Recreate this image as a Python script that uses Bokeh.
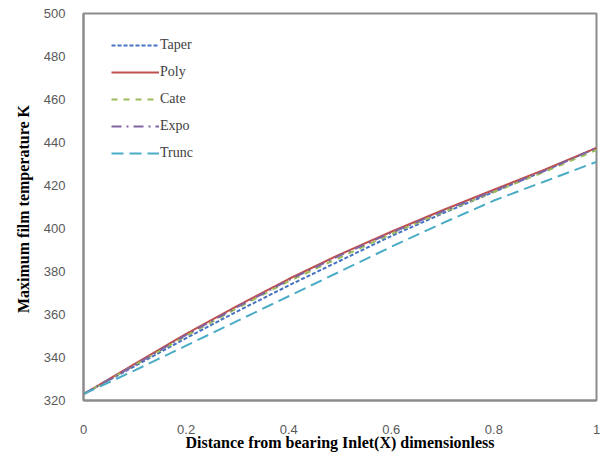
from bokeh.plotting import figure
from bokeh.models import Legend, LegendItem, Range1d, FixedTicker
from bokeh.embed import file_html
from bokeh.resources import INLINE

x = [0.0, 0.1, 0.2, 0.3, 0.4, 0.5, 0.6, 0.7, 0.8, 0.9, 1.0]
taper = [323, 336, 349, 361.5, 373.5, 385, 396.5, 407, 417, 427, 437.5]
poly = [323, 337, 351, 364, 376.5, 388, 398.5, 408.5, 418, 427.5, 437.5]
cate = [323, 336.5, 350, 363, 375.5, 386.5, 397.5, 407.5, 417, 426.5, 436.5]
expo = [323, 336.5, 350.5, 363.5, 376, 387.5, 398, 408, 417.5, 427, 437.5]
trunc = [323, 334, 345.5, 357, 368.5, 380, 391.5, 402.5, 413, 422, 431]

x_ticks = [0, 0.2, 0.4, 0.6, 0.8, 1]
y_ticks = [320, 340, 360, 380, 400, 420, 440, 460, 480, 500]

p = figure(width=605, height=456, output_backend="svg", toolbar_location=None,
           x_range=Range1d(0, 1), y_range=Range1d(320, 500),
           min_border_left=83, min_border_right=9, min_border_top=13, min_border_bottom=56)
p.xgrid.visible = False
p.ygrid.visible = False
p.outline_line_color = "#8c8c8c"
p.outline_line_width = 2
p.background_fill_color = "white"
p.border_fill_color = "white"

for ax in (p.xaxis[0], p.yaxis[0]):
    ax.axis_line_color = "#8c8c8c"
    ax.axis_line_width = 2
    ax.major_tick_line_color = None
    ax.minor_tick_line_color = None
    ax.major_label_text_color = "#595959"
    ax.major_label_text_font = "Liberation Sans"
    ax.major_label_text_font_size = "13px"
    ax.axis_label_text_font = "Liberation Serif"
    ax.axis_label_text_font_style = "bold"
    ax.axis_label_text_font_size = "16px"
    ax.axis_label_text_color = "black"

p.xaxis.ticker = FixedTicker(ticks=x_ticks)
p.yaxis.ticker = FixedTicker(ticks=y_ticks)
p.xaxis.major_label_overrides = {0: "0", 1: "1"}
p.xaxis.major_label_standoff = 18
p.yaxis.major_label_standoff = 12
p.xaxis.axis_label = "Distance from bearing Inlet(X) dimensionless"
p.xaxis.axis_label_standoff = -3
p.yaxis.axis_label = "Maximum film  temperature K"
p.yaxis.axis_label_standoff = 9

r_taper = p.line(x, taper, line_color="#4472C4", line_width=2, line_dash="4 2")
r_poly = p.line(x, poly, line_color="#C0504D", line_width=2)
r_cate = p.line(x, cate, line_color="#9BBB59", line_width=2, line_dash="6 6")
r_expo = p.line(x, expo, line_color="#8064A2", line_width=2, line_dash="10 5 2 5")
r_trunc = p.line(x, trunc, line_color="#4BACC6", line_width=2, line_dash="12 6")

legend = Legend(items=[
    LegendItem(label="Taper", renderers=[r_taper]),
    LegendItem(label="Poly", renderers=[r_poly]),
    LegendItem(label="Cate", renderers=[r_cate]),
    LegendItem(label="Expo", renderers=[r_expo]),
    LegendItem(label="Trunc", renderers=[r_trunc]),
], location=(28, 237))
legend.border_line_color = None
legend.background_fill_alpha = 0
legend.label_text_font = "Liberation Serif"
legend.label_text_font_size = "14px"
legend.label_text_color = "#404040"
legend.glyph_width = 48
legend.glyph_height = 20
legend.label_height = 20
legend.spacing = 7
legend.padding = 10
legend.margin = 0
legend.label_standoff = 1
p.add_layout(legend, "center")

open("out.html", "w").write(file_html(p, INLINE))
